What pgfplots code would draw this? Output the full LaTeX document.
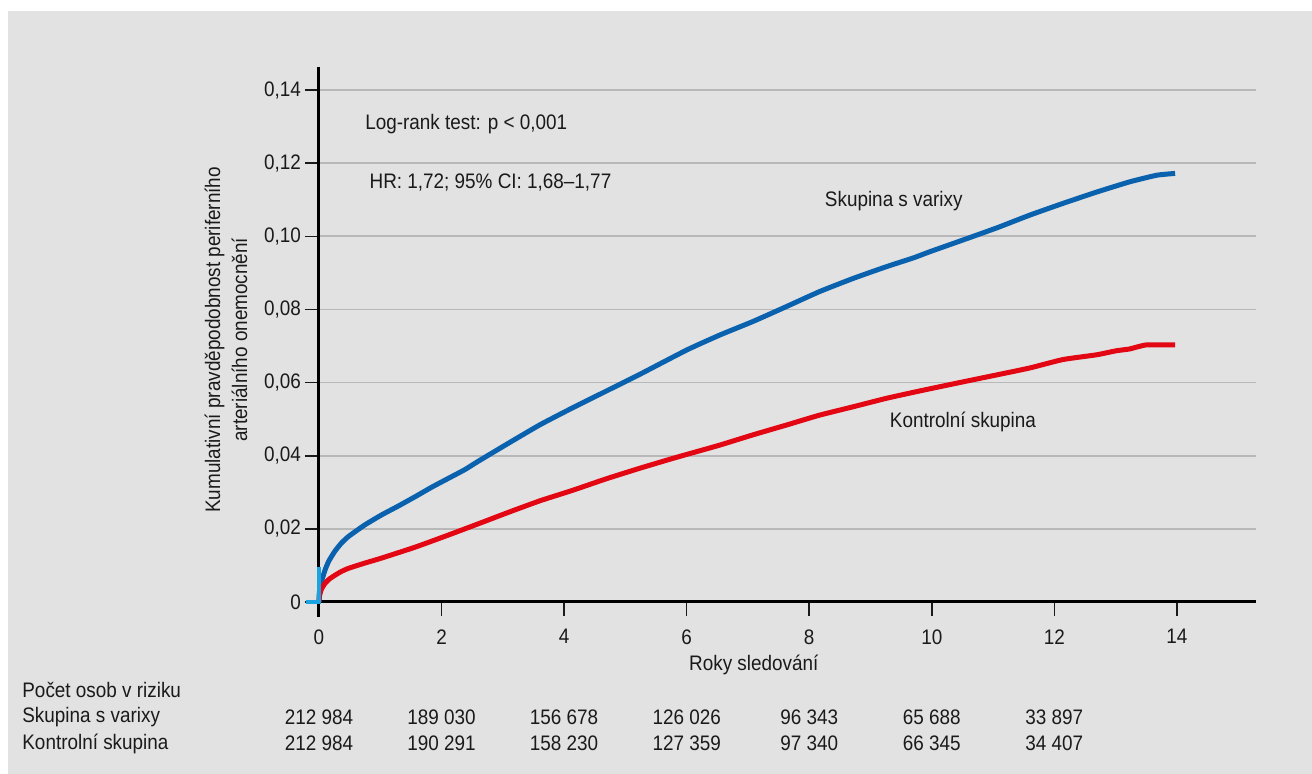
\documentclass[border=0pt]{standalone}
\usepackage{pgfplots}
\pgfplotsset{compat=1.18}
\usepackage{fontspec}
\setmainfont{Liberation Sans}[FakeStretch=0.9]

\definecolor{bggray}{HTML}{E2E2E2}
\definecolor{gridgray}{HTML}{B8B8B8}
\definecolor{txt}{HTML}{1A1A1A}
\definecolor{varblue}{HTML}{0A62AE}
\definecolor{ctrlred}{HTML}{E30613}
\definecolor{startcyan}{HTML}{1AA3E0}

\tikzset{note/.style={txt, anchor=west, inner xsep=0pt}}

\begin{document}
\fontsize{10.5pt}{13.5pt}\selectfont
\begin{tikzpicture}[x=1pt,y=1pt]
% page and panel
\path[fill=white,use as bounding box] (-159.5,-86) rectangle (496.5,301);
\fill[bggray] (-155.5,-86) rectangle (496.5,295.5);

\begin{axis}[
  at={(0,0)}, anchor=south west,
  scale only axis,
  width=468.5pt, height=267.5pt,
  xmin=0, xmax=15.29,
  ymin=0, ymax=0.1463,
  axis line style={draw=none},
  clip=false,
  tick pos=left,
  tick align=outside,
  major tick length=7pt,
  every tick/.style={txt, line width=0.8pt},
  xtick={0,2,...,14},
  xticklabels={0,2,4,6,8,10,12,14},
  ytick={0,0.02,...,0.14},
  yticklabels={0,{0,02},{0,04},{0,06},{0,08},{0,10},{0,12},{0,14}},
  yticklabel style={txt, inner sep=0pt, xshift=-1.8pt},
  xticklabel style={txt, yshift=-3pt},
  ymajorgrids,
  major grid style={gridgray, line width=0.9pt},
  xlabel={Roky sledování},
  xlabel style={txt, at={(axis description cs:0.464,-0.1178)}, anchor=center},
  ylabel={Kumulativní pravděpodobnost periferního\\arteriálního onemocnění},
  ylabel style={txt, align=center, at={(axis description cs:-0.0993,0.49)}, anchor=center},
]
% axis lines
\draw[black, line width=1.5pt] (axis cs:0,0.1463) -- ([yshift=-7.5pt]axis cs:0,0);
\draw[black, line width=1.5pt] (axis cs:0,0) -- (axis cs:15.29,0);

% cumulative incidence, varicose veins group
\addplot[varblue, line width=2.5pt, line join=round, line cap=butt, smooth, tension=0.3] coordinates {
 (0,0) (0.005,0.0025) (0.03,0.005) (0.098,0.0087) (0.16,0.0112) (0.26,0.0139)
 (0.36,0.0160) (0.48,0.0179) (0.75,0.0211) (1.02,0.0238) (1.29,0.0262)
 (1.57,0.0288) (1.84,0.0314) (2.11,0.0338) (2.38,0.0362) (2.60,0.0385)
 (3.12,0.0437) (3.61,0.0485) (4.15,0.0532) (4.69,0.0577) (5.24,0.0623)
 (6.0,0.0689) (6.54,0.073) (7.08,0.0767) (7.63,0.0808) (8.17,0.0849)
 (8.72,0.0885) (9.26,0.0917) (9.70,0.0941) (9.97,0.0958) (10.51,0.099)
 (11.06,0.1023) (11.60,0.1058) (12.14,0.109) (12.69,0.1121) (13.23,0.1149)
 (13.67,0.1167) (13.97,0.1172)
};
% cumulative incidence, control group
\addplot[ctrlred, line width=2.5pt, line join=round, line cap=butt, smooth, tension=0.3] coordinates {
 (0,0) (0.01,0.0018) (0.04,0.0035) (0.098,0.0051) (0.17,0.0063) (0.26,0.0073)
 (0.36,0.0083) (0.48,0.0092) (0.74,0.0106) (1.02,0.0120) (1.57,0.0150)
 (2.11,0.0183) (2.65,0.0217) (3.12,0.0247) (3.61,0.0277) (4.15,0.0306)
 (4.69,0.0337) (5.24,0.0366) (5.78,0.0393) (6.16,0.0411) (6.54,0.0429)
 (7.08,0.0457) (7.63,0.0484) (8.17,0.0511) (8.72,0.0534) (9.26,0.0557)
 (9.80,0.0577) (10.51,0.0602) (11.06,0.0621) (11.60,0.0640) (12.14,0.0663)
 (12.69,0.0676) (13.01,0.0687) (13.23,0.0692) (13.50,0.0703) (13.97,0.0703)
};
% start segment
\addplot[startcyan, line width=1.6pt] coordinates {(-0.21,0) (0,0) (0,0.0097)};

% annotations
\node[note] at (axis cs:0.75,0.1307) {Log-rank test: p < 0,001};
\node[note] at (axis cs:0.82,0.1148) {HR: 1,72; 95\% CI: 1,68–1,77};
\node[note] at (axis cs:8.25,0.1096) {Skupina s varixy};
\node[note] at (axis cs:9.31,0.0492) {Kontrolní skupina};

% numbers at risk
\node[note] at ([xshift=-148.5pt]axis cs:0,-0.0241) {Počet osob v riziku};
\node[note] at ([xshift=-148.5pt]axis cs:0,-0.0314) {Skupina s varixy};
\node[note] at ([xshift=-148.5pt]axis cs:0,-0.0387) {Kontrolní skupina};
\node[txt] at (axis cs:0,-0.0314) {212 984};
\node[txt] at (axis cs:2,-0.0314) {189 030};
\node[txt] at (axis cs:4,-0.0314) {156 678};
\node[txt] at (axis cs:6,-0.0314) {126 026};
\node[txt] at (axis cs:8,-0.0314) {96 343};
\node[txt] at (axis cs:10,-0.0314) {65 688};
\node[txt] at (axis cs:12,-0.0314) {33 897};
\node[txt] at (axis cs:0,-0.0387) {212 984};
\node[txt] at (axis cs:2,-0.0387) {190 291};
\node[txt] at (axis cs:4,-0.0387) {158 230};
\node[txt] at (axis cs:6,-0.0387) {127 359};
\node[txt] at (axis cs:8,-0.0387) {97 340};
\node[txt] at (axis cs:10,-0.0387) {66 345};
\node[txt] at (axis cs:12,-0.0387) {34 407};
\end{axis}
\end{tikzpicture}
\end{document}
